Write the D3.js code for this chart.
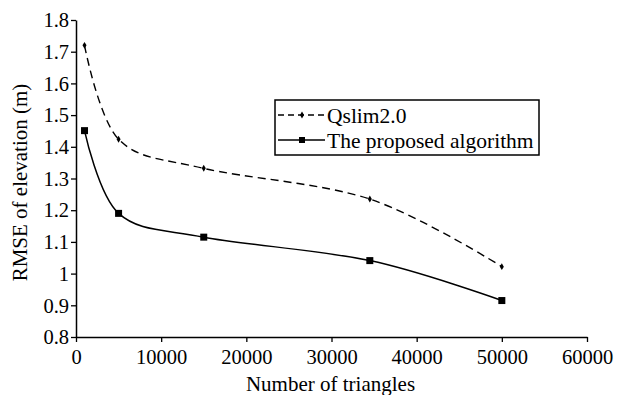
<!DOCTYPE html>
<html lang="en">
<head>
<meta charset="UTF-8">
<title>RMSE of elevation</title>
<script src="https://d3js.org/d3.v7.min.js"></script>
<style>
  body { margin: 0; background: #fff; }
  svg text { font-family: "Liberation Serif", "Times New Roman", Times, "DejaVu Serif", serif !important; fill: #000; }
</style>
</head>
<body>
<div id="chart"></div>
<script>
// data
var triangles = [1000, 5000, 15000, 34500, 50000];
var qslim = [1.72, 1.424, 1.332, 1.235, 1.022];
var proposed = [1.451, 1.19, 1.115, 1.041, 0.915];
var seriesNames = ["Qslim2.0", "The proposed algorithm"];
var xTicks = [0, 10000, 20000, 30000, 40000, 50000, 60000];
var yTicks = [0.8, 0.9, 1, 1.1, 1.2, 1.3, 1.4, 1.5, 1.6, 1.7, 1.8];

var W = 629, H = 395;
var margin = {top: 20, right: 42, bottom: 58, left: 76};
var width = W - margin.left - margin.right,
    height = H - margin.top - margin.bottom;

var svg = d3.select("#chart").append("svg")
    .attr("width", W).attr("height", H);
var g = svg.append("g")
    .attr("transform", "translate(" + margin.left + "," + margin.top + ")");

var x = d3.scaleLinear().domain([0, 60000]).range([0, width]);
var y = d3.scaleLinear().domain([0.8, 1.8]).range([height, 0]);

// axes
var xAxis = g.append("g")
    .attr("transform", "translate(0," + height + ")")
    .call(d3.axisBottom(x).tickValues(xTicks).tickFormat(d3.format("d")).tickSize(5).tickSizeOuter(0));
var yAxis = g.append("g")
    .call(d3.axisLeft(y).tickValues(yTicks).tickFormat(function(d) { return d3.format("")(+d.toFixed(1)); }).tickSize(5).tickSizeOuter(0));

[xAxis, yAxis].forEach(function(a) {
  a.attr("font-family", null).attr("font-size", null);
  a.select(".domain").attr("stroke", "#000").attr("stroke-width", 1.5);
  a.selectAll(".tick line").attr("stroke", "#000").attr("stroke-width", 1.3);
  a.selectAll("text").style("font-size", "20.5px").attr("fill", "#000");
});
xAxis.selectAll("text").attr("dy", "0.95em");
yAxis.selectAll("text").attr("x", -7).attr("dy", "0.33em");

// axis titles
svg.append("text")
    .attr("x", margin.left + width / 2 - 1).attr("y", H - 4)
    .attr("text-anchor", "middle").style("font-size", "21px")
    .text("Number of triangles");
svg.append("text")
    .attr("transform", "translate(27," + (margin.top + height / 2 + 4) + ")rotate(-90)")
    .attr("text-anchor", "middle").style("font-size", "21px")
    .text("RMSE of elevation (m)");

var line = function(vals) {
  return d3.line()
    .x(function(d, i) { return x(triangles[i]); })
    .y(function(d) { return y(d); })
    .curve(d3.curveCardinal.tension(0))(vals);
};

// Qslim dashed line with small diamonds
g.append("path")
    .attr("d", line(qslim))
    .attr("fill", "none").attr("stroke", "#000")
    .attr("stroke-width", 1.4).attr("stroke-dasharray", "8,5");
g.selectAll(".diamond").data(qslim).enter().append("path")
    .attr("class", "diamond")
    .attr("transform", function(d, i) { return "translate(" + x(triangles[i]) + "," + y(d) + ")"; })
    .attr("d", d3.symbol().type(d3.symbolDiamond).size(14))
    .attr("fill", "#000");

// proposed solid line with squares
g.append("path")
    .attr("d", line(proposed))
    .attr("fill", "none").attr("stroke", "#000").attr("stroke-width", 1.5);
g.selectAll(".sq").data(proposed).enter().append("rect")
    .attr("class", "sq")
    .attr("x", function(d, i) { return x(triangles[i]) - 3.5; })
    .attr("y", function(d) { return y(d) - 3.5; })
    .attr("width", 7).attr("height", 7)
    .attr("fill", "#000");

// legend
var lg = svg.append("g").attr("transform", "translate(275,100)");
lg.append("rect")
    .attr("width", 264).attr("height", 55)
    .attr("fill", "#fff").attr("stroke", "#000").attr("stroke-width", 1.5);
var rows = lg.selectAll(".row").data(seriesNames).enter().append("g")
    .attr("transform", function(d, i) { return "translate(0," + (15 + i * 25) + ")"; });
rows.append("line")
    .attr("x1", 3).attr("x2", 50).attr("y1", 0).attr("y2", 0)
    .attr("stroke", "#000").attr("stroke-width", 1.4)
    .attr("stroke-dasharray", function(d, i) { return i === 0 ? "6,4" : null; });
rows.append("path")
    .attr("transform", "translate(27,0)")
    .attr("d", function(d, i) { return i === 0 ? d3.symbol().type(d3.symbolDiamond).size(14)() : "M-3,-3h6v6h-6z"; })
    .attr("fill", "#000");
rows.append("text")
    .attr("x", 52).attr("y", 0).attr("dy", "0.35em")
    .style("font-size", "21.5px")
    .text(function(d) { return d; });
</script>
</body>
</html>
